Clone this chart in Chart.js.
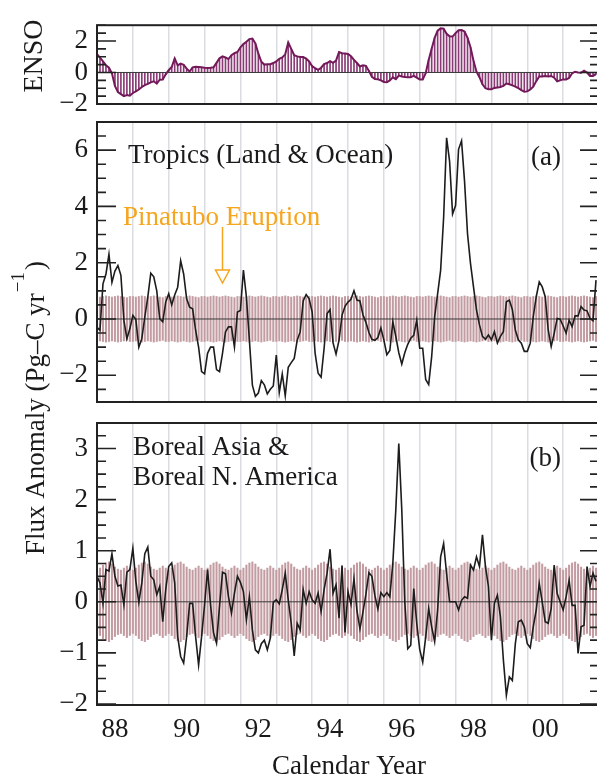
<!DOCTYPE html>
<html>
<head>
<meta charset="utf-8">
<script src="https://cdn.jsdelivr.net/npm/chart.js@4.4.0/dist/chart.umd.min.js"></script>
<style>
  html, body { margin: 0; padding: 0; background: #fff; overflow: hidden; }
  #wrap { position: relative; width: 597px; height: 777px; overflow: hidden; }
  #wrap canvas { position: absolute; left: 0; top: 0; }
</style>
</head>
<body>
<div id="wrap">
  <canvas id="enso" width="600" height="777"></canvas>
  <canvas id="tropics" width="600" height="777"></canvas>
  <canvas id="boreal" width="600" height="777"></canvas>
</div>
<script>
// monthly series, Jan 1988 .. Dec 2001
const startYear = 1988;
const endYear = 2002;

const ensoIndex = [
  1.17, 0.95, 0.7, 0.45, 0.3, -0.05, -0.85, -1.25, -1.37, -1.5, -1.43, -1.47,
  -1.3, -1.2, -1.08, -0.92, -0.8, -0.72, -0.63, -0.56, -0.7, -0.46, -0.45, -0.12,
  0.15, 0.35, 0.89, 0.45, 0.56, 0.48, 0.24, 0.06, 0.33, 0.37, 0.35, 0.33,
  0.3, 0.28, 0.3, 0.33, 0.61, 0.9, 1.02, 0.95, 0.85, 1.1, 1.22, 1.3,
  1.6, 1.8, 1.95, 2.12, 2.15, 1.85, 1.2, 0.68, 0.5, 0.52, 0.52, 0.6,
  0.7, 0.87, 0.96, 1.15, 1.9, 1.5, 1.1, 1.02, 0.98, 0.98, 0.88, 0.7,
  0.4, 0.27, 0.17, 0.3, 0.53, 0.6, 0.72, 0.61, 0.75, 1.3, 1.22, 1.2,
  1.17, 1.03, 0.8, 0.6, 0.38, 0.45, 0.42, 0.1, -0.28, -0.41, -0.43, -0.5,
  -0.6, -0.62, -0.5, -0.31, -0.42, -0.2, -0.25, -0.28, -0.3, -0.3, -0.22, -0.33,
  -0.45, -0.45, -0.05, 0.8, 1.5, 2.2, 2.65, 2.8, 2.78, 2.45, 2.3, 2.28,
  2.5, 2.68, 2.7, 2.6, 2.2, 1.6, 0.75, 0.05, -0.3, -0.75, -1.0, -1.06,
  -1.06, -0.98, -0.96, -0.92, -0.85, -0.7, -0.75, -0.82, -0.9, -1.0, -1.12, -1.22,
  -1.2, -1.08, -0.9, -0.55, -0.25, -0.25, -0.22, -0.26, -0.22, -0.33, -0.56, -0.5,
  -0.44, -0.44, -0.35, -0.05, 0.05, 0.0, -0.02, 0.12, 0.0, -0.22, -0.22, -0.1,
];

const tropicsFlux = [
  -0.3, -0.4, 1.25, 1.6, 2.3, 1.3, 1.7, 1.9, 1.55, -0.05, -0.7, -0.35,
  0.13, -0.02, -1.0, -0.7, 0.07, 0.78, 1.63, 1.5, 1.0, 0.01, -0.1, 0.6,
  0.9, 0.5, 0.85, 1.13, 2.07, 1.6, 0.72, 0.42, 0.36, -0.4, -1.0, -1.87,
  -1.95, -1.22, -1.0, -1.0, -1.8, -1.87, -1.22, -0.46, -0.28, -0.28, -1.0, 0.25,
  0.3, 1.74, 0.78, -0.75, -2.35, -2.75, -2.63, -2.19, -2.34, -2.66, -2.5, -2.38,
  -1.28, -2.61, -1.95, -2.73, -1.72, -1.55, -1.4, -0.75, -0.46, 0.64, 0.87, 0.72,
  0.25, -1.22, -1.93, -2.07, -1.05, 0.19, 0.33, -0.85, -1.25, -0.75, 0.13, 0.45,
  0.6, 0.7, 1.0, 0.67, 0.64, 0.15, -0.12, -0.48, -0.72, -0.76, -0.66, -0.32,
  -0.74, -1.27, -1.12, -0.1, -0.62, -1.2, -1.6, -1.2, -0.9, -0.68, -0.58, -0.05,
  -1.04, -1.04, -2.15, -2.33, -1.34, 0.08, 0.9, 1.73, 3.6, 6.44, 5.6, 3.73,
  4.03, 6.03, 6.33, 4.9, 3.03, 1.97, 1.14, 0.32, -0.21, -0.62, -0.72, -0.57,
  -0.74, -0.45, -0.86, -0.62, -0.45, 0.61, 0.67, 0.34, -0.39, -0.74, -0.86, -1.15,
  -1.15, -0.86, 0.08, 0.79, 1.32, 1.14, 0.79, -0.39, -0.98, -0.51, 0.02, -0.01,
  -0.25, -0.5, -0.04, -0.27, 0.11, 0.11, 0.44, 0.32, 0.29, 0.02, -0.06, 1.38,
];

const borealFlux = [
  0.5, 0.37, -0.03, 0.63, 0.6, 0.94, 0.5, 0.31, 0.33, -0.06, 0.58, 0.63,
  1.05, 0.4, -0.01, 0.37, 0.94, 1.07, 0.5, 0.43, 0.14, 0.3, -0.39, 0.24,
  0.69, 0.76, 0.37, -0.68, -1.07, -1.2, -0.68, -0.03, -0.03, -0.68, -1.24, -0.68,
  -0.06, 0.63, -0.06, -0.61, -0.81, -0.09, 0.58, 0.55, 0.1, -0.22, 0.17, 0.5,
  0.38, 0.2, -0.35, 0.1, -0.55, -0.94, -1.0, -0.82, -0.75, -0.94, -0.71, -0.01,
  0.04, -0.04, 0.24, 0.56, 0.04, -0.42, -1.06, -0.42, -0.55, 0.24, -0.03, 0.2,
  0.04, -0.03, 0.17, -0.19, 0.24, 0.56, 1.03, 0.17, 0.33, -0.32, 0.71, -0.6,
  0.2, -0.05, 0.45, -0.18, -0.53, -0.2, 0.15, 0.57, 0.5, 0.12, -0.14, 0.18,
  0.1, 0.18, 0.1, 0.75, 1.8, 3.1, 1.8, 0.0, -0.92, -0.85, 0.26, -0.42,
  -0.93, -1.18, -0.69, -0.13, -0.49, -0.78, -0.16, 0.88, 1.14, 0.55, 0.0, 0.0,
  0.0, -0.16, 0.03, 0.1, 0.07, 0.72, 0.62, 0.88, 0.69, 1.31, 0.69, 0.3,
  -0.75, -0.03, 0.13, -0.29, -1.14, -1.83, -1.47, -1.54, -0.82, -0.39, -0.36, -0.49,
  -0.82, -0.9, -0.49, -0.16, 0.36, 0.0, -0.39, -0.42, -0.13, 0.72, 0.16, 0.0,
  -0.16, 0.1, 0.42, -0.07, -0.07, -1.01, -0.49, -0.46, 0.69, 0.3, 0.56, 0.4,
];

// half-width of the uncertainty bars by calendar month (Jan..Dec)
const tropicsSpread = [0.8, 0.78, 0.8, 0.82, 0.8, 0.78, 0.8, 0.82, 0.8, 0.78, 0.76, 0.8];
const borealSpread = [0.62, 0.66, 0.72, 0.76, 0.78, 0.74, 0.68, 0.64, 0.62, 0.66, 0.7, 0.66];

const yearLabels = ['88', '90', '92', '94', '96', '98', '00'];
const ensoTicks = [-2, 0, 2];
const tropicsTicks = [-2, 0, 2, 4, 6];
const borealTicks = [-2, -1, 0, 1, 2, 3];
const pinatuboYear = 1991.5;

const FONT = '"Liberation Serif", "Times New Roman", serif';
const months = tropicsFlux.map((_, i) => startYear + i / 12);
const minusLabel = v => (v < 0 ? '\u2212' + Math.abs(v) : String(v));

// zero line under the series, inward ticks on both sides, black frame
const frameAndTicks = {
  id: 'frameAndTicks',
  beforeDatasetDraw(chart, args) {
    if (chart.data.datasets[args.index].type !== 'line') return;
    const { ctx, chartArea: a, scales: { y } } = chart;
    const y0 = y.getPixelForValue(0);
    ctx.save();
    ctx.strokeStyle = '#3a3a3a';
    ctx.lineWidth = 1;
    ctx.beginPath();
    ctx.moveTo(a.left, y0);
    ctx.lineTo(a.right, y0);
    ctx.stroke();
    ctx.restore();
  },
  afterDatasetsDraw(chart, _args, opts) {
    const { ctx, chartArea: a, scales: { y } } = chart;
    ctx.save();
    ctx.strokeStyle = '#222';
    ctx.lineWidth = 1.6;
    const first = Math.ceil(y.min / opts.minor - 1e-6);
    const last = Math.floor(y.max / opts.minor + 1e-6);
    for (let k = first; k <= last; k++) {
      const v = k * opts.minor;
      const py = y.getPixelForValue(v);
      const isMajor = Math.abs(v / opts.major - Math.round(v / opts.major)) < 1e-6;
      const len = isMajor ? 19 : 9;
      ctx.beginPath();
      ctx.moveTo(a.left, py);
      ctx.lineTo(a.left + len, py);
      ctx.moveTo(a.right, py);
      ctx.lineTo(a.right - len, py);
      ctx.stroke();
    }
    ctx.lineWidth = 2;
    ctx.strokeRect(a.left, a.top, a.right - a.left, a.bottom - a.top);
    ctx.restore();
  },
};

function xGrid() {
  return {
    type: 'linear',
    min: startYear,
    max: endYear,
    offset: false,
    weight: 0,
    grid: { color: '#dcdce3', lineWidth: 1.5, drawTicks: false, offset: false },
    border: { display: false },
    ticks: { display: false, stepSize: 1 },
    afterFit: s => { s.height = 0; },
  };
}

function yAxis(min, max, tickValues) {
  return {
    min,
    max,
    afterBuildTicks: s => { s.ticks = tickValues.map(value => ({ value })); },
    afterFit: s => { s.width = 97; },
    grid: { display: false, drawTicks: false },
    border: { display: false },
    ticks: {
      padding: 9,
      autoSkip: false,
      color: '#1a1a1a',
      font: { family: FONT, size: 27 },
      callback: minusLabel,
    },
  };
}

function baseOptions(padTop, padBottom, yScale, tickStep, extraScales) {
  return {
    responsive: false,
    animation: false,
    events: [],
    layout: { padding: { left: 0, right: 1, top: padTop, bottom: padBottom } },
    plugins: {
      legend: { display: false },
      tooltip: { enabled: false },
      frameAndTicks: tickStep,
    },
    scales: Object.assign({ x: xGrid(), y: yScale }, extraScales || {}),
  };
}

function fluxPanel(values, spread) {
  return [
    {
      type: 'line',
      data: months.map((x, i) => ({ x, y: values[i] })),
      borderColor: '#1c1c1c',
      borderWidth: 1.6,
      pointRadius: 0,
      tension: 0,
      order: 1,
    },
    {
      type: 'bar',
      data: months.map((x, i) => {
        const s = spread[i % 12];
        return { x, y: [-s, s] };
      }),
      backgroundColor: '#c39ca2',
      barThickness: 1.4,
      order: 2,
    },
  ];
}

// ENSO
new Chart(document.getElementById('enso'), {
  type: 'bar',
  data: {
    datasets: [
      {
        type: 'line',
        data: months.map((x, i) => ({ x, y: ensoIndex[i] })),
        borderColor: '#73195a',
        borderWidth: 2,
        pointRadius: 0,
        tension: 0,
        order: 1,
      },
      {
        type: 'bar',
        data: months.map((x, i) => ({ x, y: ensoIndex[i] })),
        backgroundColor: '#8a3a75',
        barThickness: 1,
        order: 2,
      },
    ],
  },
  options: baseOptions(13, 673, yAxis(-2, 3, ensoTicks), { minor: 0.5, major: 2 }),
  plugins: [frameAndTicks, {
    id: 'ensoTitle',
    afterDraw(chart) {
      const { ctx } = chart;
      ctx.save();
      ctx.translate(42, 56);
      ctx.rotate(-Math.PI / 2);
      ctx.fillStyle = '#1a1a1a';
      ctx.font = `28px ${FONT}`;
      ctx.textAlign = 'center';
      ctx.fillText('ENSO', 0, 0);
      ctx.restore();
    },
  }],
});

// (a) tropics
new Chart(document.getElementById('tropics'), {
  type: 'bar',
  data: { datasets: fluxPanel(tropicsFlux, tropicsSpread) },
  options: baseOptions(122, 375, yAxis(-2.95, 7, tropicsTicks), { minor: 0.5, major: 2 }),
  plugins: [frameAndTicks, {
    id: 'tropicsNotes',
    afterDraw(chart) {
      const { ctx, scales: { x } } = chart;
      ctx.save();
      ctx.fillStyle = '#1a1a1a';
      ctx.font = `27px ${FONT}`;
      ctx.textAlign = 'left';
      ctx.fillText('Tropics (Land & Ocean)', 128, 163);
      ctx.textAlign = 'right';
      ctx.fillText('(a)', 561, 165);

      const orange = '#f5a51e';
      ctx.fillStyle = orange;
      ctx.textAlign = 'left';
      ctx.fillText('Pinatubo Eruption', 123, 225);
      const px = x.getPixelForValue(pinatuboYear);
      ctx.strokeStyle = orange;
      ctx.lineWidth = 1.5;
      ctx.beginPath();
      ctx.moveTo(px, 227);
      ctx.lineTo(px, 270);
      ctx.stroke();
      ctx.beginPath();
      ctx.moveTo(px - 7, 270);
      ctx.lineTo(px + 7, 270);
      ctx.lineTo(px, 283);
      ctx.closePath();
      ctx.stroke();

      // shared y title
      const main = 'Flux Anomaly (Pg\u2013C yr';
      const big = `27px ${FONT}`;
      const small = `19px ${FONT}`;
      ctx.translate(44, 408);
      ctx.rotate(-Math.PI / 2);
      ctx.fillStyle = '#1a1a1a';
      ctx.font = big;
      const w1 = ctx.measureText(main).width;
      const w3 = ctx.measureText(')').width;
      ctx.font = small;
      const w2 = ctx.measureText('\u22121').width;
      const x0 = -(w1 + w2 + w3 + 3) / 2;
      ctx.font = big;
      ctx.fillText(main, x0, 0);
      ctx.font = small;
      ctx.fillText('\u22121', x0 + w1 + 1, -20);
      ctx.font = big;
      ctx.fillText(')', x0 + w1 + w2 + 3, 0);
      ctx.restore();
    },
  }],
});

// (b) boreal
new Chart(document.getElementById('boreal'), {
  type: 'bar',
  data: { datasets: fluxPanel(borealFlux, borealSpread) },
  options: baseOptions(423, 0, yAxis(-2.02, 3.5, borealTicks), { minor: 0.25, major: 1 }, {
    xl: {
      type: 'linear',
      position: 'bottom',
      min: startYear,
      max: endYear,
      offset: false,
      weight: 1,
      afterBuildTicks: s => { s.ticks = yearLabels.map((_, i) => ({ value: startYear + 0.5 + 2 * i })); },
      afterFit: s => { s.height = 72; },
      grid: { display: false, drawTicks: false },
      border: { display: false },
      ticks: {
        padding: 9,
        maxRotation: 0,
        autoSkip: false,
        color: '#1a1a1a',
        font: { family: FONT, size: 27 },
        callback: (v, i) => yearLabels[i],
      },
    },
  }),
  plugins: [frameAndTicks, {
    id: 'borealNotes',
    afterDraw(chart) {
      const { ctx } = chart;
      ctx.save();
      ctx.fillStyle = '#1a1a1a';
      ctx.font = `27px ${FONT}`;
      ctx.textAlign = 'left';
      ctx.fillText('Boreal Asia &', 133, 455);
      ctx.fillText('Boreal N. America', 133, 485);
      ctx.textAlign = 'right';
      ctx.fillText('(b)', 561, 466);
      ctx.textAlign = 'center';
      ctx.fillText('Calendar Year', 349, 774);
      ctx.restore();
    },
  }],
});
</script>
</body>
</html>
